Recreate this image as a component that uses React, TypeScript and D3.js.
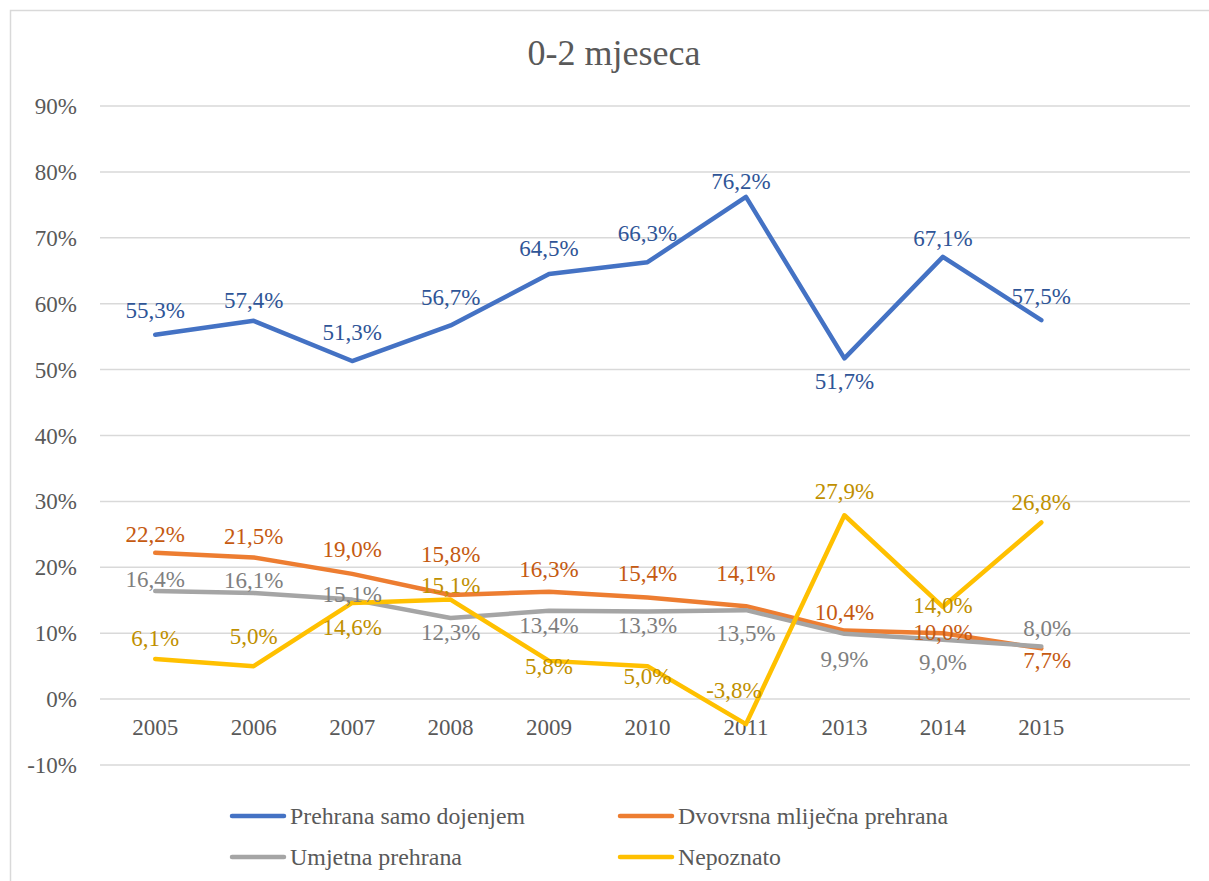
import React from "react";
import * as d3 from "d3";

const title = "0-2 mjeseca";
const categories = ["2005", "2006", "2007", "2008", "2009", "2010", "2011", "2013", "2014", "2015", ""];
const yTicks = [-10, 0, 10, 20, 30, 40, 50, 60, 70, 80, 90];

const seriesNames = ["Prehrana samo dojenjem", "Dvovrsna mliječna prehrana", "Umjetna prehrana", "Nepoznato"];
const dojenje = [55.3, 57.4, 51.3, 56.7, 64.5, 66.3, 76.2, 51.7, 67.1, 57.5];
const dvovrsna = [22.2, 21.5, 19.0, 15.8, 16.3, 15.4, 14.1, 10.4, 10.0, 7.7];
const umjetna = [16.4, 16.1, 15.1, 12.3, 13.4, 13.3, 13.5, 9.9, 9.0, 8.0];
const nepoznato = [6.1, 5.0, 14.6, 15.1, 5.8, 5.0, -3.8, 27.9, 14.0, 26.8];

// label vertical offsets (px) relative to point, per series
const labelDy = [
  [-25, -21, -29, -28, -26, -29, -16, 23, -19, -24],
  [-19, -21, -25, -41, -23, -25, -33, -19, -1, 12],
  [-12, -13, -6, 14, 14, 14, 23, 25, 22, -18],
  [-21, -30, 24, -15, 5, 10, -34, -24, -2, -20],
];
const labelDx = [
  [0, 0, 0, 0, 0, 0, -5, 0, 0, 0],
  [0, 0, 0, 0, 0, 0, 0, 0, 0, 6],
  [0, 0, 0, 0, 0, 0, 0, 0, 0, 6],
  [0, 0, 0, 0, 0, 0, -12, 0, 0, 0],
];

const lineColors = ["#4472C4", "#ED7D31", "#A5A5A5", "#FFC000"];
const labelColors = ["#2F5597", "#C55A11", "#7F7F7F", "#BF9000"];

const W = 1209;
const H = 881;
const fontStyle = { fontFamily: "Liberation Serif" };

export default function App() {
  const data = [dojenje, dvovrsna, umjetna, nepoznato];
  const x = d3.scaleBand<string>().domain(categories.map((c, i) => c + "_" + i)).range([106, 1189]);
  const xc = (i: number) => (x(categories[i] + "_" + i) as number) + x.bandwidth() / 2;
  const y = d3.scaleLinear().domain([-10, 90]).range([765, 106]);
  const line = d3
    .line<number>()
    .x((_, i) => xc(i))
    .y((v) => y(v));
  const fmt = (v: number) => v.toFixed(1).replace(".", ",") + "%";

  const legendPos = [
    { x: 232, y: 816 },
    { x: 620, y: 816 },
    { x: 232, y: 857 },
    { x: 620, y: 857 },
  ];
  const legendLen = [235, 270, 172, 103];

  return (
    <svg width={W} height={H} style={{ position: "absolute", left: 0, top: 0 }}>
      <rect x={0} y={0} width={W} height={H} fill="#fff" />
      <rect x={10.5} y={10.5} width={W + 10} height={H + 10} fill="none" stroke="#D9D9D9" strokeWidth={1.5} />
      <text x={614} y={65} textAnchor="middle" fontSize={36} fill="#595959" style={fontStyle}>
        {title}
      </text>
      {yTicks.map((t) => (
        <g key={t}>
          <line x1={100} x2={1190} y1={y(t)} y2={y(t)} stroke="#D9D9D9" strokeWidth={1.5} />
          <text x={77} y={y(t) + 8} textAnchor="end" fontSize={23} fill="#595959" style={fontStyle}>
            {t + "%"}
          </text>
        </g>
      ))}
      {categories.map((c, i) => (
        <text key={i} x={xc(i)} y={735} textAnchor="middle" fontSize={23} fill="#595959" style={fontStyle}>
          {c}
        </text>
      ))}
      {data.map((s, si) => (
        <path
          key={si}
          d={line(s) as string}
          fill="none"
          stroke={lineColors[si]}
          strokeWidth={4.5}
          strokeLinejoin="round"
          strokeLinecap="round"
        />
      ))}
      {data.map((s, si) =>
        s.map((v, i) => (
          <text
            key={si + "-" + i}
            x={xc(i) + labelDx[si][i]}
            y={y(v) + labelDy[si][i] + 8}
            textAnchor="middle"
            fontSize={23}
            fill={labelColors[si]}
            style={fontStyle}
          >
            {fmt(v)}
          </text>
        ))
      )}
      {seriesNames.map((n, i) => (
        <g key={n}>
          <line
            x1={legendPos[i].x}
            x2={legendPos[i].x + 52}
            y1={legendPos[i].y}
            y2={legendPos[i].y}
            stroke={lineColors[i]}
            strokeWidth={4.5}
            strokeLinecap="round"
          />
          <text
            x={legendPos[i].x + 58}
            y={legendPos[i].y + 8}
            fontSize={23}
            fill="#595959"
            style={fontStyle}
            textLength={legendLen[i]}
            lengthAdjust="spacingAndGlyphs"
          >
            {n}
          </text>
        </g>
      ))}
    </svg>
  );
}
